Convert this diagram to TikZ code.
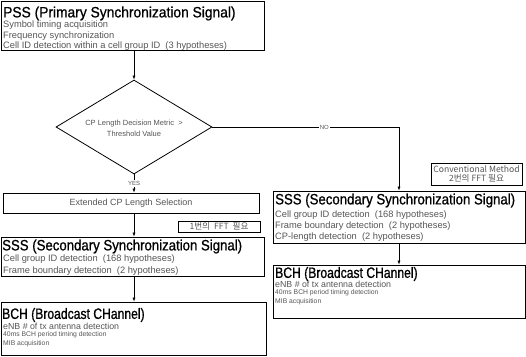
\documentclass[tikz,border=0pt]{standalone}
\usepackage{fontspec}
\setmainfont{Liberation Sans}
\newfontfamily\krfont{Noto Sans CJK KR}
\newfontfamily\pssfont[FakeStretch=0.92,FakeBold=0.8]{Liberation Sans}
\newfontfamily\sssfont[FakeStretch=0.88,FakeBold=0.8]{Liberation Sans}
\newfontfamily\bchfont[FakeStretch=0.81,FakeBold=0.8]{Liberation Sans}
\usetikzlibrary{shapes.geometric,arrows.meta}
\definecolor{bodygray}{HTML}{555555}
\tikzset{
  box/.style={draw, line width=0.8pt, inner sep=0pt},
  ttl/.style={anchor=west, inner sep=0pt},
  body/.style={anchor=west, inner sep=0pt, text=bodygray, font=\fontsize{9.3}{10}\selectfont},
  tiny/.style={anchor=west, inner sep=0pt, text=bodygray, font=\fontsize{6.8}{7.5}\selectfont},
  note/.style={draw, line width=0.6pt, inner sep=0pt, font=\krfont\fontsize{8.6}{9.5}\selectfont, text=bodygray, align=center},
  arr/.style={line width=0.6pt, -{Latex[length=4pt,width=3pt]}},
  lbl/.style={fill=white, inner sep=1pt, text=bodygray, font=\fontsize{6}{7}\selectfont}
}
\begin{document}
\begin{tikzpicture}[x=1pt,y=-1pt]
\useasboundingbox (0,0) rectangle (526,356);
% PSS
\node[box, minimum width=263pt, minimum height=49pt] (pss) at (132.5,25.5) {};
\node[ttl, font=\pssfont\fontsize{15}{16}\selectfont] (psst) at (3,13.5) {PSS (Primary Synchronization Signal)};
\node[body] (pss1) at (3,25.5) {Symbol timing acquisition};
\node[body] (pss2) at (3,36) {Frequency synchronization};
\node[body] (pss3) at (3,46.5) {Cell ID detection within a cell group ID\ \ (3 hypotheses)};
% decision
\node[draw, line width=0.8pt, shape=diamond, minimum width=156pt, minimum height=94pt, inner sep=0pt] (dec) at (134,127) {};
\node[body, anchor=center, align=center, font=\fontsize{7.5}{8}\selectfont] (dect) at (134,128.5) {CP Length Decision Metric\ \ >\\[2.5pt]Threshold Value};
% extended
\node[box, minimum width=256pt, minimum height=20pt] (ext) at (131,203) {};
\node[body, anchor=center, font=\fontsize{9}{10}\selectfont] (extt) at (131,203) {Extended CP Length Selection};
% note 1
\node[note, minimum width=82pt, minimum height=11pt] (n1) at (219,226.5) {1번의\hspace{2pt} FFT\hspace{2pt} 필요};
% SSS left
\node[box, minimum width=263pt, minimum height=39pt] (sssl) at (132.5,256.5) {};
\node[ttl, font=\sssfont\fontsize{15}{16}\selectfont] (ssslt) at (2,246.5) {SSS (Secondary Synchronization Signal)};
\node[body] (sssl1) at (3,259.5) {Cell group ID detection\ \ (168 hypotheses)};
\node[body] (sssl2) at (3,271.5) {Frame boundary detection\ \ (2 hypotheses)};
% BCH left
\node[box, minimum width=265pt, minimum height=53pt] (bchl) at (133.5,328.5) {};
\node[ttl, font=\bchfont\fontsize{15}{16}\selectfont] (bchlt) at (2,315) {BCH (Broadcast CHannel)};
\node[body, font=\fontsize{8.8}{9.5}\selectfont] (bchl1) at (3,326.5) {eNB \# of tx antenna detection};
\node[tiny] (bchl2) at (3,335) {40ms BCH period timing detection};
\node[tiny] (bchl3) at (3,343.5) {MIB acquisition};
% note 2
\node[note, minimum width=91pt, minimum height=22pt] (n2) at (476.5,174) {Conventional Method\\[-1pt]2번의 FFT 필요};
% SSS right
\node[box, minimum width=252pt, minimum height=52pt] (sssr) at (399,217) {};
\node[ttl, font=\sssfont\fontsize{15}{16}\selectfont] (sssrt) at (275,200.5) {SSS (Secondary Synchronization Signal)};
\node[body] (sssr1) at (275,215) {Cell group ID detection\ \ (168 hypotheses)};
\node[body] (sssr2) at (275,226) {Frame boundary detection\ \ (2 hypotheses)};
\node[body] (sssr3) at (275,237) {CP-length detection\ \ (2 hypotheses)};
% BCH right
\node[box, minimum width=252pt, minimum height=53pt] (bchr) at (399,291.5) {};
\node[ttl, font=\bchfont\fontsize{15}{16}\selectfont] (bchrt) at (275,274) {BCH (Broadcast CHannel)};
\node[body, font=\fontsize{8.8}{9.5}\selectfont] (bchr1) at (275,284.5) {eNB \# of tx antenna detection};
\node[tiny] (bchr2) at (275,293) {40ms BCH period timing detection};
\node[tiny] (bchr3) at (275,301.5) {MIB acquisition};
% connectors
\draw[arr] (pss.south -| dec.north) -- (dec.north);
\draw[arr] (dec.south) -- node[lbl, pos=0.5] {YES} (ext.north -| dec.south);
\draw[arr] (ext.south -| dec.south) -- (sssl.north -| dec.south);
\draw[arr] (sssl.south -| dec.south) -- (bchl.north -| dec.south);
\coordinate (corner) at (dec.east -| sssr.north);
\draw[arr] (dec.east) -- node[lbl, pos=0.6] {NO} (corner) -- (sssr.north);
\draw[arr] (sssr.south) -- (bchr.north);
\end{tikzpicture}
\end{document}
